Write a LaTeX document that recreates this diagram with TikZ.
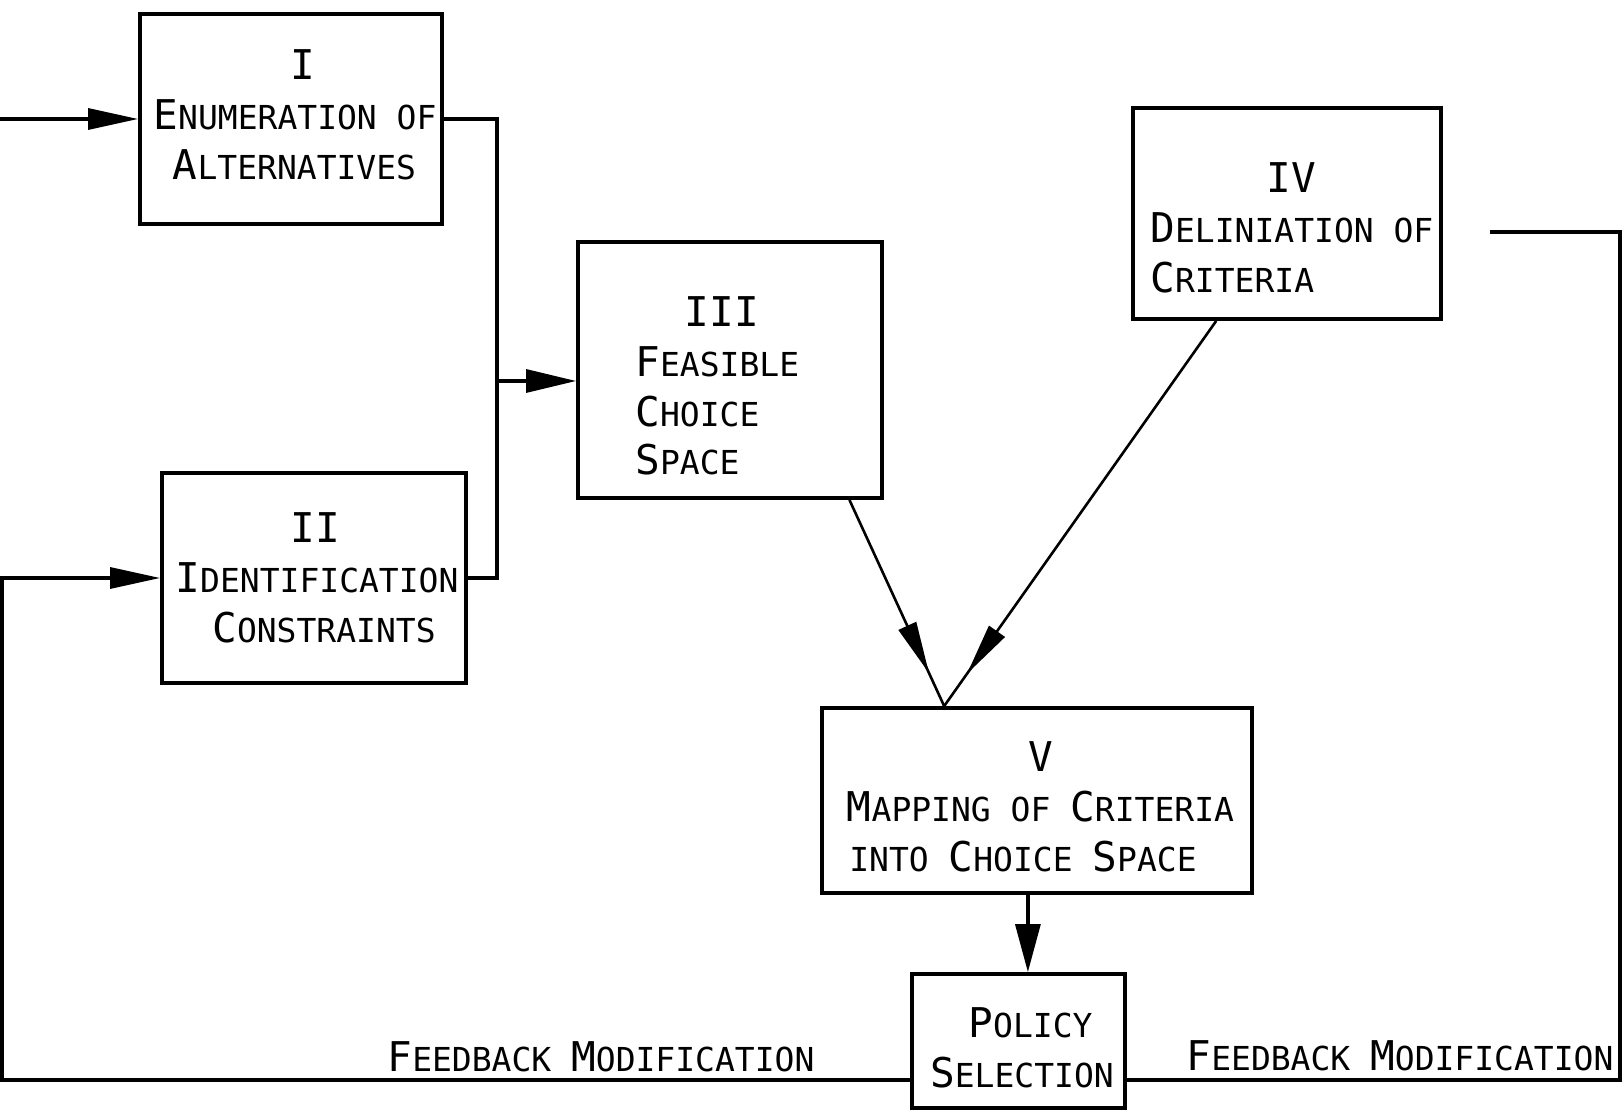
\documentclass[tikz,border=0pt]{standalone}
\usepackage{fontspec}
\newfontfamily\lettering{DejaVu Sans Mono}
\usetikzlibrary{arrows.meta,calc,decorations.markings}
\newcommand\bc[1]{{\fontsize{20.5}{25}\selectfont #1}}
\tikzset{
  box/.style={draw, line width=1.9pt, inner sep=0pt},
  txt/.style={font=\lettering\fontsize{16.5}{25}\selectfont, inner sep=0pt, anchor=base},
  txtl/.style={txt, anchor=base west},
  conn/.style={line width=1.6pt},
  diag/.style={line width=1.3pt},
  hhead/.style={-{Triangle[length=25pt,width=10.5pt]}},
  vhead/.style={-{Triangle[length=24pt,width=12.5pt]}},
  midhead/.style={postaction={decorate}, decoration={markings,
      mark=at position #1 with {\arrow{Triangle[length=26pt,width=9.5pt]}}}},
}
\begin{document}
\begin{tikzpicture}[x=0.5pt,y=-0.5pt]
\fill[white] (0,0) rectangle (1623,1111);
\useasboundingbox (0,0) rectangle (1623,1111);

% boxes
\node[box, minimum width=151pt, minimum height=105pt] (I)   at (291,119)    {};
\node[box, minimum width=152pt, minimum height=105pt] (II)  at (314,578)    {};
\node[box, minimum width=152pt, minimum height=128pt] (III) at (730,370)    {};
\node[box, minimum width=154pt, minimum height=105.5pt] (IV) at (1287,213.5) {};
\node[box, minimum width=215pt, minimum height=92.5pt] (V)  at (1037,800.5) {};
\node[box, minimum width=106.5pt, minimum height=67pt] (P)  at (1018.5,1041) {};

% texts
\node[txt] (Ia) at (303,80)  {\bc{I}};
\node[txt] (Ib) at (295,130) {\bc{E}NUMERATION OF};
\node[txt] (Ic) at (294.5,180) {\bc{A}LTERNATIVES};

\node[txt] (IIa) at (315,543) {\bc{II}};
\node[txt] (IIb) at (317,593) {\bc{I}DENTIFICATION};
\node[txt] (IIc) at (324,643) {\bc{C}ONSTRAINTS};

\node[txt]  (IIIa) at (722,327) {\bc{III}};
\node[txtl] (IIIb) at (635,377) {\bc{F}EASIBLE};
\node[txtl] (IIIc) at (635,427) {\bc{C}HOICE};
\node[txtl] (IIId) at (635,475) {\bc{S}PACE};

\node[txt]  (IVa) at (1291,193) {\bc{IV}};
\node[txtl] (IVb) at (1150,243) {\bc{D}ELINIATION OF};
\node[txtl] (IVc) at (1150,293) {\bc{C}RITERIA};

\node[txt] (Va) at (1041,772)    {\bc{V}};
\node[txt] (Vb) at (1040.5,822)  {\bc{M}APPING OF \bc{C}RITERIA};
\node[txt] (Vc) at (1023,872)    {INTO \bc{C}HOICE \bc{S}PACE};

\node[txt] (Pa) at (1030.5,1037) {\bc{P}OLICY};
\node[txt] (Pb) at (1022,1087)   {\bc{S}ELECTION};

\node[txt] (fbtL) at (601,1071)  {\bc{F}EEDBACK \bc{M}ODIFICATION};
\node[txt] (fbtR) at (1400,1070) {\bc{F}EEDBACK \bc{M}ODIFICATION};

% coordinates
\coordinate (inI)  at (0,119);
\coordinate (fbL)  at (2,1080);
\coordinate (bus)  at (497,381);
\coordinate (fbR0) at (1490,232);
\coordinate (fbR)  at (1620,1080);
\coordinate (apex) at ($(V.north west)!0.286!(V.north east)$);
\coordinate (vp)   at ($(V.south west)!0.479!(V.south east)$);

% connectors
\draw[conn, hhead] (inI) -- (I.west);
\draw[conn, hhead] (P.west |- fbL) -- (fbL) |- (II.west);
\draw[conn] (I.east) -| (bus) |- (II.east);
\draw[conn, -{Triangle[length=25pt,width=11.5pt]}] (bus) -- (bus -| III.west);
\draw[conn] (fbR0) -| (fbR) -- (P.east |- fbR);
\draw[diag, midhead=0.84] ($(III.south west)!0.888!(III.south east)$) -- (apex);
\draw[diag, midhead=0.916] ($(IV.south west)!0.273!(IV.south east)$) -- (apex);
\draw[conn, vhead] (vp) -- (P.north -| vp);
\end{tikzpicture}
\end{document}
